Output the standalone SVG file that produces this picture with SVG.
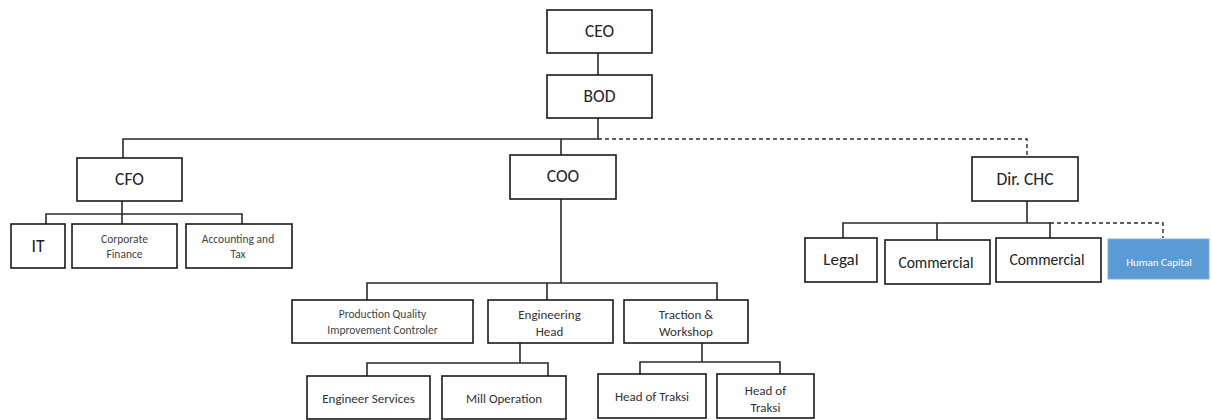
<svg xmlns="http://www.w3.org/2000/svg" width="1212" height="420" viewBox="0 0 1212 420">
<style>
.box{fill:#fff;stroke:#1a1a1a;stroke-width:1.6}
.ln{fill:none;stroke:#2a2a2a;stroke-width:1.6}
.dash{fill:none;stroke:#2a2a2a;stroke-width:1.4;stroke-dasharray:4 3}
text{font-family:Carlito,Lato,"Liberation Sans",sans-serif;text-anchor:middle;fill:#222}
.big{font-size:17.5px}
.mid{font-size:15.5px}
.lg{font-size:17px}
.sm{font-size:13px;fill:#333}
.xs{font-size:11.5px;fill:#444}
.hc{fill:#5b9bd5;stroke:#7fb0df;stroke-width:1}
.wt{font-size:11px;fill:#fff}
</style>
<rect width="1212" height="420" fill="#fff"/>
<g id="connectors">
<path class="ln" d="M598 53V75M598 118V139H123V158M561 139V155"/>
<path class="dash" d="M598 139H1027V158"/>
<path class="ln" d="M122 201V224M46 224V214H242V224"/>
<path class="ln" d="M561 199V283M367 300V283H717V300M547 283V300"/>
<path class="ln" d="M520 343V363M367 376V363H548V376"/>
<path class="ln" d="M702 343V362M640 374V362H780V374"/>
<path class="ln" d="M1027 201V223M843 238V223H1050V238M937 223V240"/>
<path class="dash" d="M1050 223H1163V238"/>
</g>
<g id="ceo"><rect class="box" x="547" y="10" width="105" height="43"/><text class="big" x="599.5" y="37">CEO</text></g>
<g id="bod"><rect class="box" x="547" y="75" width="105" height="43"/><text class="big" x="599.5" y="102">BOD</text></g>
<g id="cfo"><rect class="box" x="77" y="158" width="105" height="43"/><text class="big" x="129.5" y="185">CFO</text></g>
<g id="coo"><rect class="box" x="510" y="155" width="106" height="44"/><text class="big" x="563" y="182">COO</text></g>
<g id="dirchc"><rect class="box" x="972" y="157" width="106" height="44"/><text class="big" x="1025" y="185">Dir. CHC</text></g>
<g id="it"><rect class="box" x="11" y="224" width="54" height="44"/><text class="big" x="38" y="252">IT</text></g>
<g id="corpfin"><rect class="box" x="72" y="224" width="105" height="44"/><text class="xs" x="124.5" y="243">Corporate</text><text class="xs" x="124.5" y="258">Finance</text></g>
<g id="acctax"><rect class="box" x="186" y="224" width="106" height="44"/><text class="xs" x="238" y="243">Accounting and</text><text class="xs" x="238" y="258">Tax</text></g>
<g id="pq"><rect class="box" x="292" y="300" width="181" height="43"/><text class="xs" x="382.5" y="318">Production Quality</text><text class="xs" x="382.5" y="334">Improvement Controler</text></g>
<g id="eh"><rect class="box" x="488" y="300" width="125" height="43"/><text class="sm" x="549.5" y="319">Engineering</text><text class="sm" x="549.5" y="336">Head</text></g>
<g id="tw"><rect class="box" x="624" y="300" width="124" height="43"/><text class="sm" x="686" y="319">Traction &amp;</text><text class="sm" x="686" y="336">Workshop</text></g>
<g id="es"><rect class="box" x="307" y="376" width="123" height="43"/><text class="sm" x="368.5" y="403">Engineer Services</text></g>
<g id="mo"><rect class="box" x="442" y="376" width="124" height="43"/><text class="sm" x="504" y="403">Mill Operation</text></g>
<g id="hot1"><rect class="box" x="598" y="374" width="108" height="44"/><text class="sm" x="652" y="401">Head of Traksi</text></g>
<g id="hot2"><rect class="box" x="717" y="374" width="97" height="44"/><text class="sm" x="765.5" y="395">Head of</text><text class="sm" x="765.5" y="412">Traksi</text></g>
<g id="legal"><rect class="box" x="805" y="238" width="72" height="44"/><text class="lg" x="841" y="265">Legal</text></g>
<g id="comm1"><rect class="box" x="885" y="240" width="105" height="44"/><text class="mid" x="936" y="268">Commercial</text></g>
<g id="comm2"><rect class="box" x="996" y="238" width="105" height="44"/><text class="mid" x="1047" y="265">Commercial</text></g>
<g id="hc"><rect class="hc" x="1108" y="239" width="101" height="40"/><text class="wt" x="1159" y="266">Human Capital</text></g>
</svg>
